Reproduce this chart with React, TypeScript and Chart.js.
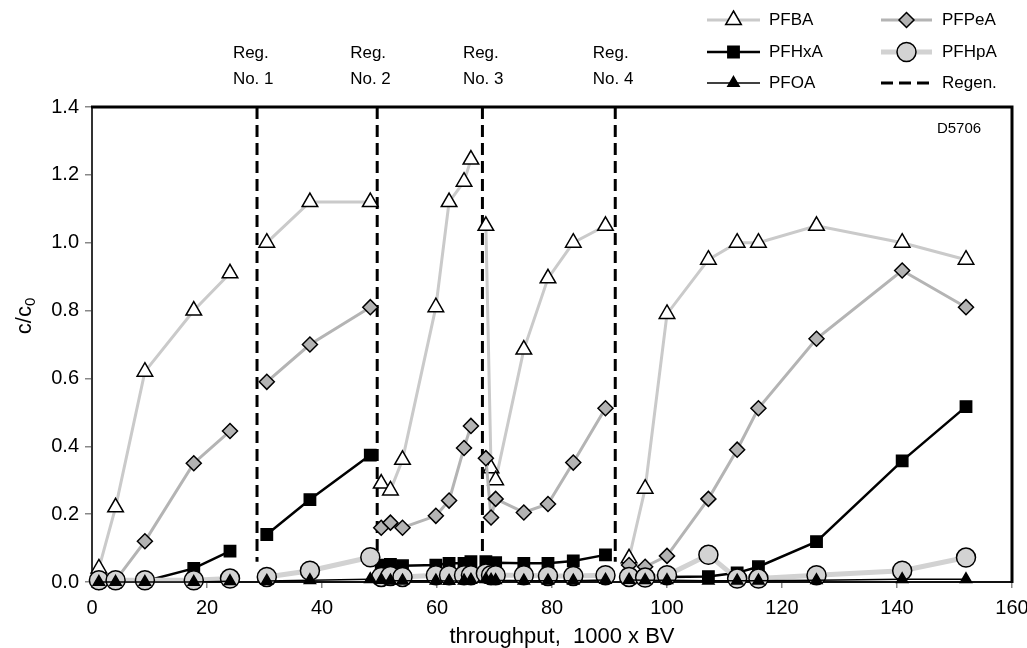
import React, { useEffect, useRef } from 'react';
import { Chart, registerables } from 'chart.js';

Chart.register(...registerables);

// ---------- data ----------
const throughput = [
  1.2, 4.1, 9.2, 17.7, 24.0,
  30.4, 37.9, 48.4,
  50.3, 51.9, 54.0, 59.8, 62.1, 64.7, 65.9,
  68.5, 69.4, 70.2, 75.1, 79.3, 83.7, 89.3,
  93.4, 96.2, 100.0, 107.2, 112.2, 115.9, 126.0, 140.9, 152.0,
];
const pfba = [
  0.04, 0.22, 0.62, 0.80, 0.91,
  1.00, 1.12, 1.12,
  0.29, 0.27, 0.36, 0.81, 1.12, 1.18, 1.245,
  1.05, 0.335, 0.30, 0.685, 0.895, 1.0, 1.05,
  0.07, 0.275, 0.79, 0.95, 1.0, 1.0, 1.05, 1.0, 0.95,
];
const pfpea = [
  0.0, 0.005, 0.12, 0.35, 0.445,
  0.59, 0.70, 0.81,
  0.16, 0.175, 0.16, 0.195, 0.24, 0.395, 0.46,
  0.365, 0.19, 0.245, 0.205, 0.23, 0.352, 0.512,
  0.05, 0.045, 0.077, 0.245, 0.39, 0.512, 0.717, 0.918, 0.81,
];
const pfhxa = [
  0.0, 0.0, 0.002, 0.04, 0.091,
  0.14, 0.243, 0.374,
  0.05, 0.052, 0.048, 0.05, 0.055, 0.055, 0.06,
  0.06, 0.055, 0.057, 0.055, 0.055, 0.062, 0.08,
  0.02, 0.015, 0.015, 0.016, 0.027, 0.045, 0.119, 0.357, 0.517,
];
const pfhpa = [
  0.005, 0.005, 0.005, 0.005, 0.01,
  0.015, 0.033, 0.073,
  0.015, 0.018, 0.015, 0.02, 0.02, 0.02, 0.02,
  0.025, 0.02, 0.02, 0.02, 0.018, 0.018, 0.02,
  0.015, 0.013, 0.02, 0.08, 0.01, 0.01, 0.02, 0.033, 0.072,
];
const pfoa = [
  0.0, 0.0, 0.0, 0.0, 0.002,
  0.003, 0.005, 0.008,
  0.006, 0.004, 0.004, 0.004, 0.003, 0.004, 0.006,
  0.008, 0.006, 0.005, 0.004, 0.004, 0.004, 0.006,
  0.006, 0.005, 0.005, 0.004, 0.004, 0.004, 0.005, 0.008, 0.008,
];
const regenAt = [28.7, 49.6, 67.9, 91.0];
const regenRange = [1.4, 0.06];
const regenLabelX = [24.5, 44.9, 64.5, 87.1];
const regenLabels = ['No. 1', 'No. 2', 'No. 3', 'No. 4'];
const columnLabel = 'D5706';
const xTitle = 'throughput,  1000 x BV';

const FONT = '"Liberation Sans", Arial, sans-serif';

function buildSeries(ys: number[]) {
  const out: { x: number; y: number | null }[] = [];
  for (let i = 0; i < throughput.length; i++) {
    if (i > 0) {
      for (const r of regenAt) {
        if (throughput[i - 1] < r && throughput[i] > r) out.push({ x: r, y: null });
      }
    }
    out.push({ x: throughput[i], y: ys[i] });
  }
  return out;
}

type Sty = {
  label: string; color: string; width: number; dash?: number[];
  shape?: string; r?: number; fill?: string;
};

const styles: Record<string, Sty> = {
  PFBA: { label: 'PFBA', color: '#cacaca', width: 3, shape: 'triangle', r: 9, fill: '#ffffff' },
  PFPeA: { label: 'PFPeA', color: '#b4b4b4', width: 3, shape: 'rectRot', r: 7.5, fill: '#b3b3b3' },
  PFHxA: { label: 'PFHxA', color: '#000000', width: 2.5, shape: 'rect', r: 8, fill: '#000000' },
  PFHpA: { label: 'PFHpA', color: '#d2d2d2', width: 5, shape: 'circle', r: 9.5, fill: '#d3d3d3' },
  PFOA: { label: 'PFOA', color: '#000000', width: 1.5, shape: 'triangle', r: 6.5, fill: '#000000' },
  Regen: { label: 'Regen.', color: '#000000', width: 3, dash: [12, 6] },
};

function drawShape(ctx: CanvasRenderingContext2D, shape: string, x: number, y: number, r: number) {
  ctx.beginPath();
  if (shape === 'circle') {
    ctx.arc(x, y, r, 0, Math.PI * 2);
  } else if (shape === 'triangle') {
    let a = 0;
    ctx.moveTo(x + Math.sin(a) * r, y - Math.cos(a) * r);
    a += (2 * Math.PI) / 3;
    ctx.lineTo(x + Math.sin(a) * r, y - Math.cos(a) * r);
    a += (2 * Math.PI) / 3;
    ctx.lineTo(x + Math.sin(a) * r, y - Math.cos(a) * r);
    ctx.closePath();
  } else if (shape === 'rect') {
    const s = Math.SQRT1_2 * r;
    ctx.rect(x - s, y - s, 2 * s, 2 * s);
  } else if (shape === 'rectRot') {
    ctx.moveTo(x - r, y);
    ctx.lineTo(x, y - r);
    ctx.lineTo(x + r, y);
    ctx.lineTo(x, y + r);
    ctx.closePath();
  }
}

const legendLayout = [
  { key: 'PFBA', x0: 707, x1: 760, tx: 769, y: 20 },
  { key: 'PFHxA', x0: 707, x1: 760, tx: 769, y: 52 },
  { key: 'PFOA', x0: 707, x1: 760, tx: 769, y: 83 },
  { key: 'PFPeA', x0: 881, x1: 932, tx: 942, y: 20 },
  { key: 'PFHpA', x0: 881, x1: 932, tx: 942, y: 52 },
  { key: 'Regen', x0: 881, x1: 932, tx: 942, y: 83 },
];

const decorPlugin = {
  id: 'decor',
  beforeDatasetsDraw(chart: any) {
    const { ctx, chartArea: ca } = chart;
    ctx.save();
    ctx.lineCap = 'butt';
    ctx.strokeStyle = '#333333';
    ctx.lineWidth = 2;
    ctx.beginPath();
    ctx.moveTo(ca.left, ca.top);
    ctx.lineTo(ca.left, ca.bottom);
    ctx.stroke();
    ctx.strokeStyle = '#111111';
    ctx.lineWidth = 2;
    ctx.beginPath();
    ctx.moveTo(ca.left, ca.bottom);
    ctx.lineTo(ca.right, ca.bottom);
    ctx.stroke();
    ctx.strokeStyle = '#000000';
    ctx.lineWidth = 3;
    ctx.beginPath();
    ctx.moveTo(ca.left - 1, ca.top);
    ctx.lineTo(ca.right, ca.top);
    ctx.lineTo(ca.right, ca.bottom + 1);
    ctx.stroke();
    ctx.restore();
  },
  afterDraw(chart: any) {
    const { ctx, scales } = chart;
    const xs = scales.x;
    ctx.save();
    ctx.fillStyle = '#000';
    ctx.font = `17px ${FONT}`;
    ctx.textAlign = 'left';
    ctx.textBaseline = 'middle';
    regenLabelX.forEach((v, i) => {
      const px = xs.getPixelForValue(v);
      ctx.fillText('Reg.', px, 53);
      ctx.fillText(regenLabels[i], px, 79);
    });
    ctx.font = `15px ${FONT}`;
    ctx.textAlign = 'center';
    ctx.fillText(columnLabel, 959, 129);
    ctx.font = `22px ${FONT}`;
    ctx.textAlign = 'center';
    ctx.fillText(xTitle, 562, 637);
    ctx.save();
    ctx.translate(31, 316);
    ctx.rotate(-Math.PI / 2);
    ctx.textBaseline = 'alphabetic';
    ctx.font = `22px ${FONT}`;
    const main = 'c/c';
    const wMain = ctx.measureText(main).width;
    ctx.font = `15px ${FONT}`;
    const wSub = ctx.measureText('0').width;
    const start = -(wMain + wSub) / 2;
    ctx.font = `22px ${FONT}`;
    ctx.textAlign = 'left';
    ctx.fillText(main, start, 0);
    ctx.font = `15px ${FONT}`;
    ctx.fillText('0', start + wMain, 4);
    ctx.restore();
    legendLayout.forEach((it) => {
      const s = styles[it.key];
      ctx.save();
      ctx.strokeStyle = s.color;
      ctx.lineWidth = s.width;
      ctx.setLineDash(s.dash || []);
      ctx.beginPath();
      ctx.moveTo(it.x0, it.y);
      ctx.lineTo(it.x1, it.y);
      ctx.stroke();
      ctx.setLineDash([]);
      if (s.shape) {
        drawShape(ctx, s.shape, (it.x0 + it.x1) / 2, it.y, s.r as number);
        ctx.fillStyle = s.fill as string;
        ctx.fill();
        ctx.strokeStyle = '#000';
        ctx.lineWidth = 1.5;
        ctx.stroke();
      }
      ctx.restore();
      ctx.font = `17px ${FONT}`;
      ctx.textAlign = 'left';
      ctx.textBaseline = 'middle';
      ctx.fillStyle = '#000';
      ctx.fillText(s.label, it.tx, it.y);
    });
    ctx.restore();
  },
};

function seriesDataset(key: string, ys: number[], order: number) {
  const s = styles[key];
  return {
    label: s.label,
    data: buildSeries(ys),
    borderColor: s.color,
    borderWidth: s.width,
    pointStyle: s.shape,
    pointRadius: s.r,
    pointBackgroundColor: s.fill,
    pointBorderColor: '#000000',
    pointBorderWidth: 1.5,
    spanGaps: false,
    tension: 0,
    clip: false as const,
    order,
  };
}

export default function App() {
  const ref = useRef<HTMLCanvasElement | null>(null);
  useEffect(() => {
    const prevMargin = document.body.style.margin;
    document.body.style.margin = '0';
    const canvas = ref.current;
    if (!canvas) return;
    const regenSets = regenAt.map((v) => ({
      label: 'Regen.',
      data: [{ x: v, y: regenRange[0] }, { x: v, y: regenRange[1] }],
      borderColor: '#000000',
      borderWidth: styles.Regen.width,
      borderDash: styles.Regen.dash,
      pointRadius: 0,
      clip: false as const,
      order: 10,
    }));
    const chart = new Chart(canvas, {
      type: 'line',
      data: {
        datasets: [
          seriesDataset('PFOA', pfoa, 1),
          seriesDataset('PFHpA', pfhpa, 2),
          seriesDataset('PFHxA', pfhxa, 3),
          seriesDataset('PFPeA', pfpea, 4),
          seriesDataset('PFBA', pfba, 5),
          ...regenSets,
        ] as any,
      },
      options: {
        animation: false,
        responsive: false,
        devicePixelRatio: 1,
        layout: { padding: { top: 107, right: 15, left: 0, bottom: 0 } },
        plugins: { legend: { display: false }, tooltip: { enabled: false } },
        events: [],
        scales: {
          x: {
            type: 'linear',
            min: 0,
            max: 160,
            afterFit: (s: any) => { s.height = 66; s.paddingRight = 0; s.paddingLeft = 0; },
            ticks: { stepSize: 20, color: '#000', font: { family: FONT, size: 20 }, padding: 8, maxRotation: 0 },
            grid: { display: true, drawOnChartArea: false, drawTicks: true, tickLength: 6, color: '#888888', lineWidth: 1.5 },
            border: { display: false },
          },
          y: {
            type: 'linear',
            min: 0,
            max: 1.4,
            afterFit: (s: any) => { s.width = 92; s.paddingTop = 0; s.paddingBottom = 0; },
            ticks: {
              stepSize: 0.2,
              color: '#000',
              font: { family: FONT, size: 20 },
              padding: 6,
              callback: (v: any) => Number(v).toFixed(1),
            },
            grid: { display: true, drawOnChartArea: false, drawTicks: true, tickLength: 7, color: '#888888', lineWidth: 1.5 },
            border: { display: false },
          },
        },
      } as any,
      plugins: [decorPlugin],
    });
    return () => {
      chart.destroy();
      document.body.style.margin = prevMargin;
    };
  }, []);
  return (
    <div style={{ position: 'absolute', left: 0, top: 0, width: 1027, height: 648, background: '#fff' }}>
      <canvas ref={ref} width={1027} height={648} />
    </div>
  );
}
